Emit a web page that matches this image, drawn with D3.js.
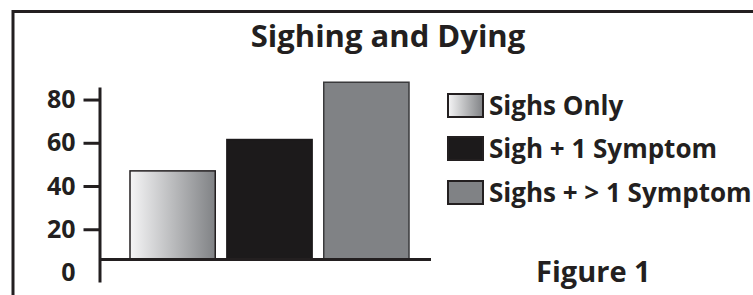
<!DOCTYPE html>
<meta charset="utf-8">
<style>
  body { margin: 0; background: #fff; }
  text { font-family: "Open Sans", sans-serif; font-weight: bold; fill: #231f20; }
  .axis path, .axis line { stroke: #231f20; stroke-width: 3px; }
</style>
<body>
<div id="chart"></div>
<script src="https://d3js.org/d3.v7.min.js"></script>
<script>
  // data
  var categories = ["Sighs Only", "Sigh + 1 Symptom", "Sighs + > 1 Symptom"];
  var values = [47, 61.5, 88];
  var yTicks = [0, 20, 40, 60, 80];
  var baseValue = 6;   // bars stand on a line drawn a bit above the 0 label

  var width = 753, height = 295;

  var svg = d3.select("#chart").append("svg")
    .attr("width", width)
    .attr("height", height);

  // gradient for the first series
  var grad = svg.append("defs").append("linearGradient")
    .attr("id", "fade")
    .attr("x1", "0%").attr("x2", "100%").attr("y1", "0%").attr("y2", "0%");
  grad.append("stop").attr("offset", "0%").attr("stop-color", "#f5f5f6");
  grad.append("stop").attr("offset", "100%").attr("stop-color", "#808285");

  var fills = ["url(#fade)", "#1c1a1b", "#808285"];
  var strokes = ["#231f20", "#1c1a1b", "#3a3a3c"];

  // outer frame (runs off the right and bottom edges)
  svg.append("rect")
    .attr("x", 13).attr("y", 11.5)
    .attr("width", width).attr("height", height)
    .attr("fill", "none")
    .attr("stroke", "#231f20")
    .attr("stroke-width", 3);

  // title
  svg.append("text")
    .attr("x", 388).attr("y", 47)
    .attr("text-anchor", "middle")
    .style("font-size", "31px")
    .text("Sighing and Dying");

  // scales
  var y = d3.scaleLinear()
    .domain([-4.4, 85.8])
    .range([282, 87]);

  var x = d3.scaleBand()
    .domain(categories)
    .range([130, 409])
    .paddingInner(0.12)
    .paddingOuter(0);

  var axisX = 99.5;

  // y axis
  var yAxis = svg.append("g")
    .attr("class", "axis")
    .attr("transform", "translate(" + axisX + ",0)")
    .call(d3.axisLeft(y).tickValues(yTicks).tickSize(16).tickSizeOuter(0).tickPadding(8));

  yAxis.selectAll(".tick text")
    .style("font-size", "25px")
    .attr("fill", "#231f20");

  // no tick mark at 0
  yAxis.selectAll(".tick").filter(function (d) { return d === 0; })
    .select("line").remove();

  // bars
  svg.selectAll(".bar")
    .data(values)
    .enter().append("rect")
    .attr("class", "bar")
    .attr("x", function (d, i) { return x(categories[i]); })
    .attr("width", x.bandwidth())
    .attr("y", function (d) { return y(d); })
    .attr("height", function (d) { return y(baseValue) - y(d); })
    .attr("fill", function (d, i) { return fills[i]; })
    .attr("stroke", function (d, i) { return strokes[i]; })
    .attr("stroke-width", 1.5);

  // horizontal base line
  svg.append("line")
    .attr("x1", axisX).attr("x2", x.range()[1] + 22)
    .attr("y1", y(baseValue)).attr("y2", y(baseValue))
    .attr("stroke", "#231f20")
    .attr("stroke-width", 3);

  // legend
  var legendY = [94, 137, 181];
  var legend = svg.selectAll(".legend")
    .data(categories)
    .enter().append("g")
    .attr("class", "legend")
    .attr("transform", function (d, i) { return "translate(448," + legendY[i] + ")"; });

  legend.append("rect")
    .attr("width", 35).attr("height", 23)
    .attr("fill", function (d, i) { return fills[i]; })
    .attr("stroke", "#231f20")
    .attr("stroke-width", 2);

  legend.append("text")
    .attr("x", 41).attr("y", 21)
    .style("font-size", "26px")
    .text(function (d) { return d; });

  // figure label
  svg.append("text")
    .attr("x", 536).attr("y", 282)
    .style("font-size", "29px")
    .text("Figure 1");
</script>
</body>
